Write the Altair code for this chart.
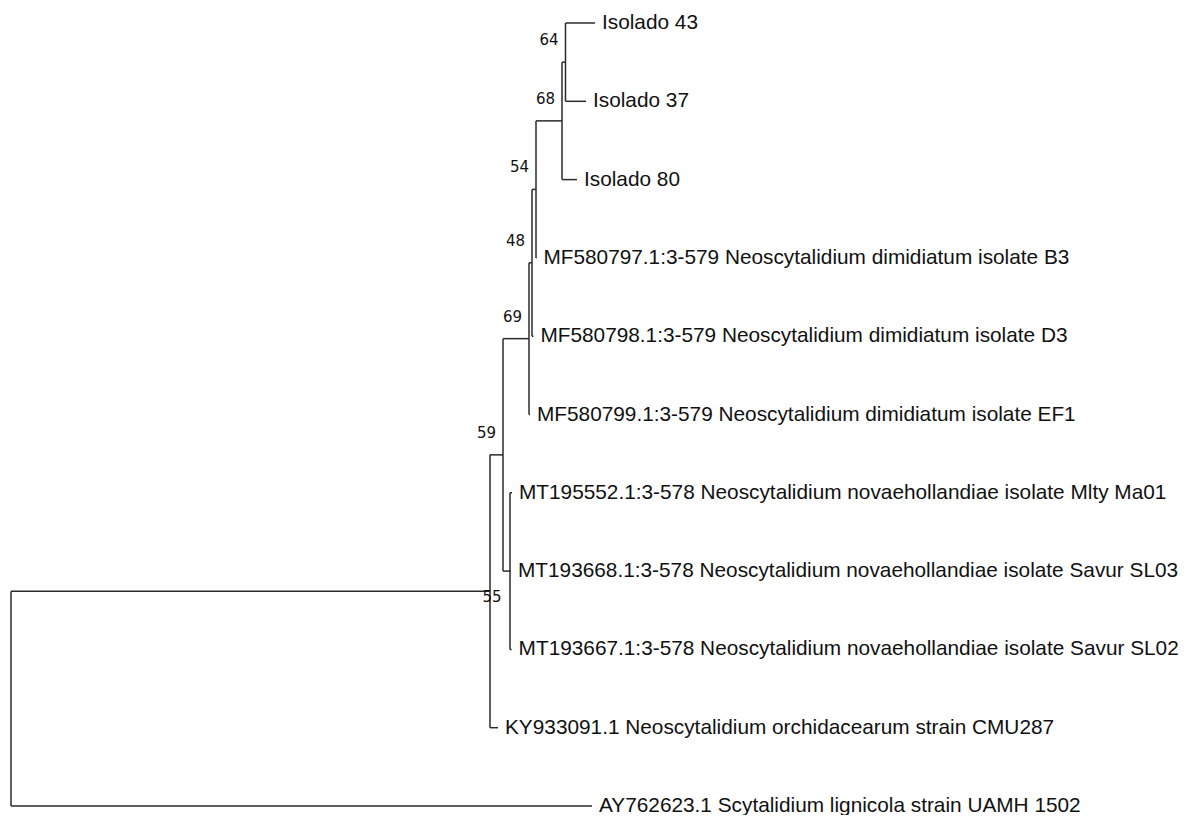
import altair as alt
import pandas as pd

# ---- tree data (branch lengths in substitutions/site) ----
node_ids = ["root", "n55", "AY", "n59", "KY", "nMT", "MT552", "MT668", "MT667",
            "n69", "n48", "n54", "n68", "n64", "I43", "I37", "I80",
            "MF797", "MF798", "MF799"]
parents = [None, "root", "root", "n55", "n55", "n59", "nMT", "nMT", "nMT",
           "n59", "n69", "n48", "n54", "n68", "n64", "n64", "n68",
           "n54", "n48", "n69"]
branch_lengths = [0.0, 0.2395, 0.2905, 0.0065, 0.0040, 0.0035, 0.0010, 0.0005, 0.0008,
                  0.0130, 0.0015, 0.0020, 0.0130, 0.00175, 0.01475, 0.01025, 0.0075,
                  0.0002, 0.0007, 0.0005]
bootstrap = [None, "55", None, "59", None, None, None, None, None,
             "69", "48", "54", "68", "64", None, None, None,
             None, None, None]

# leaves, top to bottom
leaf_order = ["I43", "I37", "I80", "MF797", "MF798", "MF799",
              "MT552", "MT668", "MT667", "KY", "AY"]
leaf_texts = [
    "Isolado 43",
    "Isolado 37",
    "Isolado 80",
    "MF580797.1:3-579 Neoscytalidium dimidiatum isolate B3",
    "MF580798.1:3-579 Neoscytalidium dimidiatum isolate D3",
    "MF580799.1:3-579 Neoscytalidium dimidiatum isolate EF1",
    "MT195552.1:3-578 Neoscytalidium novaehollandiae isolate Mlty Ma01",
    "MT193668.1:3-578 Neoscytalidium novaehollandiae isolate Savur SL03",
    "MT193667.1:3-578 Neoscytalidium novaehollandiae isolate Savur SL02",
    "KY933091.1 Neoscytalidium orchidacearum strain CMU287",
    "AY762623.1 Scytalidium lignicola strain UAMH 1502",
]

# ---- layout computation from the tree ----
parent_of = dict(zip(node_ids, parents))
blen = dict(zip(node_ids, branch_lengths))
boot = dict(zip(node_ids, bootstrap))
children = {n: [] for n in node_ids}
for n, p in zip(node_ids, parents):
    if p is not None:
        children[p].append(n)

xpos = {}
def get_x(n):
    if n in xpos:
        return xpos[n]
    p = parent_of[n]
    xpos[n] = 0.0 if p is None else get_x(p) + blen[n]
    return xpos[n]
for n in node_ids:
    get_x(n)

ypos = {n: i for i, n in enumerate(leaf_order)}
def get_y(n):
    if n in ypos:
        return ypos[n]
    ys = [get_y(c) for c in children[n]]
    ypos[n] = (min(ys) + max(ys)) / 2
    return ypos[n]
for n in node_ids:
    get_y(n)

segs = []
for n in node_ids:
    p = parent_of[n]
    if p is not None:
        segs.append(dict(x=xpos[p], x2=xpos[n], y=ypos[n], y2=ypos[n]))
    if children[n]:
        ys = [ypos[c] for c in children[n]]
        segs.append(dict(x=xpos[n], x2=xpos[n], y=min(ys), y2=max(ys)))
seg_df = pd.DataFrame(segs)

leaf_df = pd.DataFrame({
    "x": [xpos[n] for n in leaf_order],
    "y": [ypos[n] for n in leaf_order],
    "label": leaf_texts,
})

boot_above = pd.DataFrame([
    dict(x=xpos[n], y=ypos[n], label=boot[n])
    for n in node_ids if boot[n] is not None and parent_of[n] != "root"
])
boot_below = pd.DataFrame([
    dict(x=xpos[n], y=ypos[n], label=boot[n])
    for n in node_ids if boot[n] is not None and parent_of[n] == "root"
])

W, H = 1174, 807
x_scale = alt.Scale(domain=[-0.0015, -0.0015 + W / 2000], nice=False, zero=False)
y_scale = alt.Scale(domain=[-15 / 78.3, -15 / 78.3 + H / 78.3], nice=False, zero=False, reverse=True)

X = lambda: alt.X("x:Q", scale=x_scale, axis=None)
Y = lambda: alt.Y("y:Q", scale=y_scale, axis=None)

branches = alt.Chart(seg_df).mark_rule(color="#2b2b2b", strokeWidth=1.5).encode(
    x=X(), x2="x2:Q", y=Y(), y2="y2:Q"
)

leaf_labels = alt.Chart(leaf_df).mark_text(
    align="left", baseline="middle", dx=7, font="Liberation Sans", fontSize=20.8, color="#111111"
).encode(x=X(), y=Y(), text="label:N")

boot_labels = alt.Chart(boot_above).mark_text(
    align="right", baseline="middle", dx=-7, dy=-22, font="DejaVu Sans", fontSize=15, color="#111111"
).encode(x=X(), y=Y(), text="label:N")

boot_labels2 = alt.Chart(boot_below).mark_text(
    align="center", baseline="middle", dx=2, dy=6, font="DejaVu Sans", fontSize=15, color="#111111"
).encode(x=X(), y=Y(), text="label:N")

chart = (branches + leaf_labels + boot_labels + boot_labels2).properties(
    width=W, height=H, padding=0, autosize=alt.AutoSizeParams(type="none"),
    background="white",
).configure_view(stroke=None)

chart.save("out.html", embed_options={"renderer": "svg", "actions": False})
